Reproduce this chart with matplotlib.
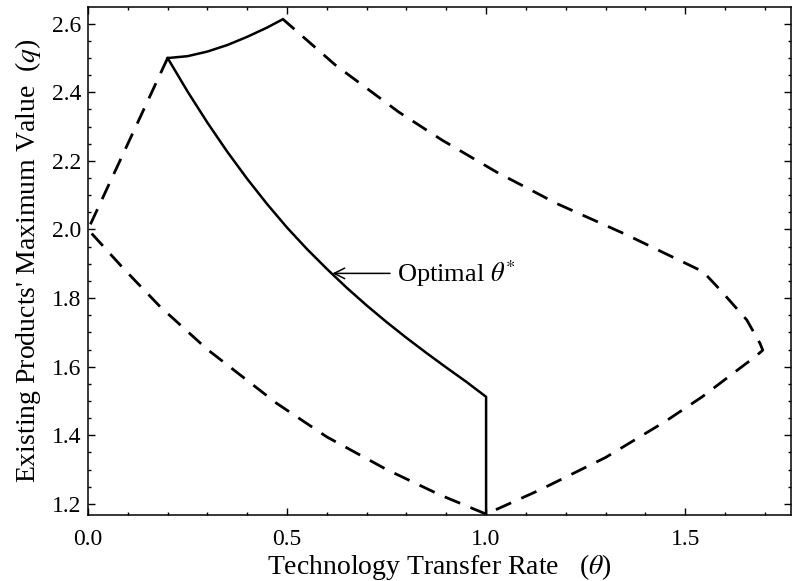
import matplotlib
matplotlib.use("Agg")
import matplotlib.pyplot as plt
from matplotlib.ticker import MultipleLocator

plt.rcParams['font.family'] = ['Liberation Serif', 'DejaVu Serif']
plt.rcParams['mathtext.fontset'] = 'stix'

# feasible region boundary (dashed), traced from the top-left kink round to the top peak
bound_theta = [0.2, 0.0, 0.09, 0.181, 0.3, 0.474, 0.6, 0.75, 0.884, 1.0,
               1.136, 1.3, 1.45, 1.544, 1.62, 1.676, 1.695,
               1.688, 1.655, 1.588, 1.545, 1.45, 1.354, 1.173, 1.144, 1.027,
               0.889, 0.78, 0.621, 0.489]
bound_q = [2.5, 2.0, 1.885, 1.775, 1.65, 1.493, 1.395, 1.3, 1.226, 1.17,
           1.241, 1.335, 1.44, 1.513, 1.58, 1.629, 1.648,
           1.668, 1.736, 1.824, 1.877, 1.93, 1.984, 2.078, 2.096, 2.167,
           2.261, 2.343, 2.48, 2.614]

# upper solid arc between the two kinks
arc_theta = [0.2, 0.25, 0.3, 0.35, 0.4, 0.45, 0.489]
arc_q = [2.5, 2.5055, 2.519, 2.538, 2.562, 2.589, 2.613]

# optimal transfer rate, ending in the vertical drop at theta = 1
opt_theta = [0.2, 0.25, 0.3, 0.35, 0.4, 0.45, 0.5, 0.55, 0.6, 0.65, 0.7,
             0.75, 0.8, 0.85, 0.9, 0.95, 1.0, 1.0]
opt_q = [2.5, 2.4025, 2.3115, 2.2265, 2.1475, 2.074, 2.0055, 1.943, 1.885,
         1.83, 1.7785, 1.73, 1.684, 1.64, 1.5975, 1.556, 1.512, 1.17]

fig = plt.figure(figsize=(7.93, 5.81), dpi=100)
ax = fig.add_axes([0.111, 0.114, 0.8865, 0.874])

ax.plot(bound_theta, bound_q, color='black', lw=2.0, dashes=(6, 4))
ax.plot(arc_theta, arc_q, color='black', lw=1.8)
ax.plot(opt_theta, opt_q, color='black', lw=1.8)

ax.annotate(r'Optimal $\theta^{*}$', xy=(0.614, 1.872), xytext=(0.776, 1.872),
            fontsize=19, va='center', ha='left',
            arrowprops=dict(arrowstyle='->', lw=1.1, color='black',
                            shrinkA=3, shrinkB=0))

ax.set_xlim(0, 1.766)
ax.set_ylim(1.168, 2.649)
ax.xaxis.set_major_locator(MultipleLocator(0.5))
ax.xaxis.set_minor_locator(MultipleLocator(0.1))
ax.yaxis.set_major_locator(MultipleLocator(0.2))
ax.yaxis.set_minor_locator(MultipleLocator(0.05))
ax.xaxis.set_major_formatter(plt.FormatStrFormatter('%.1f'))
ax.yaxis.set_major_formatter(plt.FormatStrFormatter('%.1f'))
ax.tick_params(which='both', direction='in', top=True, right=True,
               labelsize=17, width=1)
ax.tick_params(which='major', length=5)
ax.tick_params(which='minor', length=2.5)
ax.tick_params(axis='x', which='major', pad=10)
ax.tick_params(axis='y', which='major', pad=5)
for s in ax.spines.values():
    s.set_linewidth(1.1)

ax.set_xlabel(r'Technology Transfer Rate   ($\theta$)', fontsize=20, labelpad=2)
ax.set_ylabel(r"Existing Products' Maximum Value  ($q$)", fontsize=20, labelpad=6)

fig.savefig('out.png', dpi=100)
